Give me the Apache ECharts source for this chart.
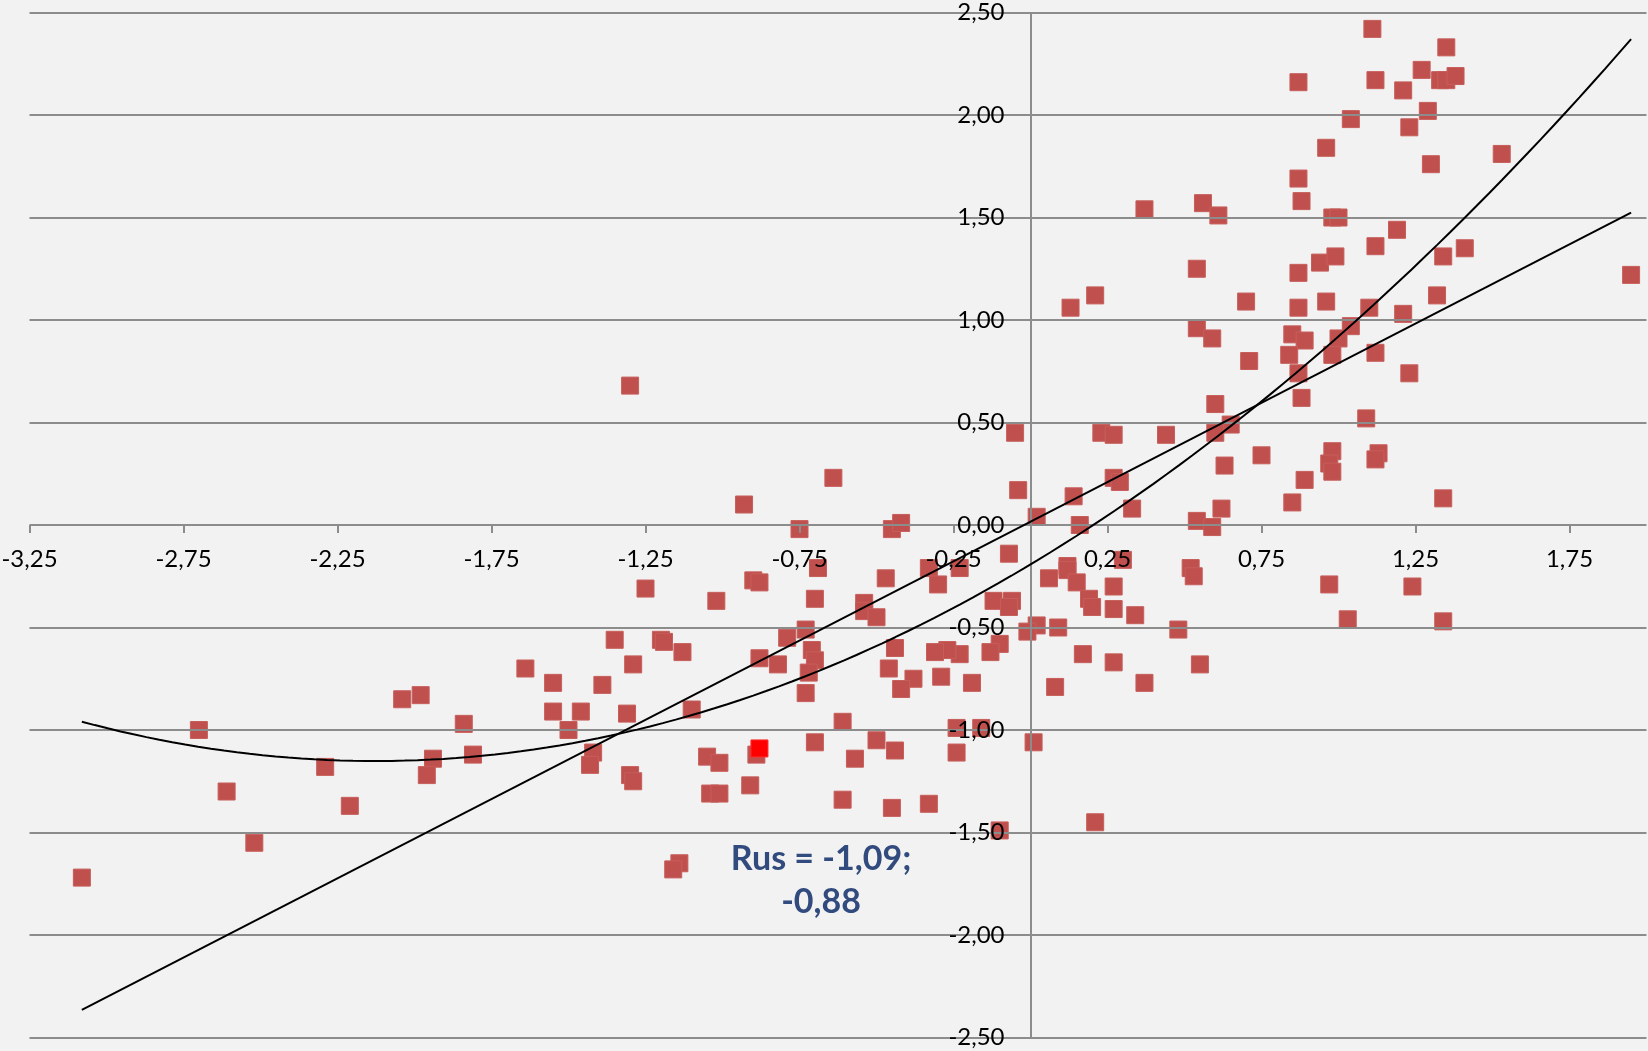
<!DOCTYPE html>
<html><head><meta charset="utf-8">
<script src="https://cdn.jsdelivr.net/npm/echarts@6/dist/echarts.min.js"></script>
<style>html,body{margin:0;padding:0;background:#f2f2f2;}#c{width:1648px;height:1051px;}</style>
</head><body><div id="c"></div>
<script>
// ---- data ----
const xValues = [
 -3.08,-2.70,-2.61,-2.52,-2.29,-2.21,-2.04,-1.98,-1.84,-1.94,-1.96,-1.81,-1.64,-1.55,-1.55,-1.46,-1.50,-1.42,-1.43,
 -1.39,-1.31,-1.10,-1.30,-1.29,-1.05,-1.01,-1.04,-1.01,-0.91,-0.89,-0.73,-0.70,-0.61,-0.57,-0.61,-0.50,-0.44,-0.45,-0.33,
 -0.24,-0.16,-0.24,-0.10,-1.14,-1.16,-0.38,-0.42,-0.29,-0.19,
 -1.30,-0.05,-0.64,-0.93,-0.04,-0.75,-0.45,-0.42,-1.25,-1.02,-0.90,-0.88,-0.69,-0.70,-0.47,-0.54,-0.54,-0.50,-0.33,-0.30,
 -0.23,-0.07,-0.12,-0.06,-0.07,-0.10,-0.13,-0.23,-0.27,-0.31,-0.44,-0.46,-1.35,-1.20,-1.19,-1.13,-1.29,-0.88,-0.82,-0.79,
 -0.73,-0.71,-0.70,-0.72,
 0.02,0.16,0.14,0.33,0.54,0.59,0.62,0.30,0.06,0.12,0.12,0.15,0.19,0.20,0.27,0.27,0.34,0.52,0.53,0.48,
 0.02,-0.01,0.09,0.17,0.27,0.37,0.55,0.08,0.01,0.21,
 0.37,0.56,0.61,0.54,0.13,0.21,0.54,0.59,0.60,0.65,0.60,0.63,0.23,0.27,0.44,0.27,0.29,
 1.11,1.35,0.87,1.12,1.27,1.21,1.33,1.35,1.38,1.04,1.29,1.23,0.96,1.30,1.53,0.87,0.88,0.98,1.00,
 1.19,1.12,1.41,0.87,0.94,0.99,1.34,1.95,0.70,0.87,0.96,1.10,1.21,1.32,1.04,0.85,0.89,1.00,0.84,0.98,
 1.12,0.71,0.87,1.23,0.88,1.09,
 0.75,0.98,0.97,0.98,0.89,1.13,1.12,0.85,1.34,0.97,1.24,1.03,1.34
];
const yValues = [
 -1.72,-1.00,-1.30,-1.55,-1.18,-1.37,-0.85,-0.83,-0.97,-1.14,-1.22,-1.12,-0.70,-0.77,-0.91,-0.91,-1.00,-1.11,-1.17,
 -0.78,-0.92,-0.90,-1.22,-1.25,-1.13,-1.16,-1.31,-1.31,-1.27,-1.12,-0.82,-1.06,-0.96,-1.14,-1.34,-1.05,-1.10,-1.38,-1.36,
 -0.99,-0.99,-1.11,-1.49,-1.65,-1.68,-0.75,-0.80,-0.74,-0.77,
 0.68,0.45,0.23,0.10,0.17,-0.02,-0.02,0.01,-0.31,-0.37,-0.27,-0.28,-0.21,-0.36,-0.26,-0.38,-0.42,-0.45,-0.21,-0.29,
 -0.21,-0.14,-0.37,-0.37,-0.40,-0.58,-0.62,-0.63,-0.61,-0.62,-0.60,-0.70,-0.56,-0.56,-0.57,-0.62,-0.68,-0.65,-0.68,-0.55,
 -0.51,-0.61,-0.66,-0.72,
 0.04,0.00,0.14,0.08,0.02,-0.01,0.08,-0.17,-0.26,-0.20,-0.22,-0.28,-0.36,-0.40,-0.30,-0.41,-0.44,-0.21,-0.25,-0.51,
 -0.49,-0.52,-0.50,-0.63,-0.67,-0.77,-0.68,-0.79,-1.06,-1.45,
 1.54,1.57,1.51,1.25,1.06,1.12,0.96,0.91,0.59,0.49,0.45,0.29,0.45,0.44,0.44,0.23,0.21,
 2.42,2.33,2.16,2.17,2.22,2.12,2.17,2.17,2.19,1.98,2.02,1.94,1.84,1.76,1.81,1.69,1.58,1.50,1.50,
 1.44,1.36,1.35,1.23,1.28,1.31,1.31,1.22,1.09,1.06,1.09,1.06,1.03,1.12,0.97,0.93,0.90,0.91,0.83,0.83,
 0.84,0.80,0.74,0.74,0.62,0.52,
 0.34,0.36,0.30,0.26,0.22,0.35,0.32,0.11,0.13,-0.29,-0.30,-0.46,-0.47
];
const highlightName = 'Rus';
const highlightX = [-0.88];
const highlightY = [-1.09];
const xTicks = [-3.25,-2.75,-2.25,-1.75,-1.25,-0.75,-0.25,0.25,0.75,1.25,1.75];
const yTicks = [-2.5,-2,-1.5,-1,-0.5,0,0.5,1,1.5,2,2.5];
const annotationAt = [-0.68, -1.733];

// ---- helpers ----
const fmt = v => (Math.abs(v) < 1e-9 ? 0 : v).toFixed(2).replace('.', ',');
function linFit(xs, ys) {
  const n = xs.length; let sx=0, sy=0, sxx=0, sxy=0;
  for (let i=0;i<n;i++){sx+=xs[i];sy+=ys[i];sxx+=xs[i]*xs[i];sxy+=xs[i]*ys[i];}
  const b = (n*sxy - sx*sy)/(n*sxx - sx*sx); const a = (sy - b*sx)/n;
  return x => a + b*x;
}
function quadFit(xs, ys) {
  const S=[0,0,0,0,0], T=[0,0,0];
  for (let i=0;i<xs.length;i++){let p=1;for(let k=0;k<5;k++){S[k]+=p; if(k<3)T[k]+=p*ys[i]; p*=xs[i];}}
  const M=[[S[4],S[3],S[2]],[S[3],S[2],S[1]],[S[2],S[1],S[0]]], R=[T[2],T[1],T[0]];
  const det=m=>m[0][0]*(m[1][1]*m[2][2]-m[1][2]*m[2][1])-m[0][1]*(m[1][0]*m[2][2]-m[1][2]*m[2][0])+m[0][2]*(m[1][0]*m[2][1]-m[1][1]*m[2][0]);
  const D=det(M); const sol=[];
  for(let c=0;c<3;c++){const m=M.map((row,r)=>row.map((v,j)=>j===c?R[r]:v)); sol.push(det(m)/D);}
  return x => sol[0]*x*x + sol[1]*x + sol[2];
}
const xmin = Math.min(...xValues), xmax = Math.max(...xValues);
const lin = linFit(xValues, yValues), quad = quadFit(xValues, yValues);
const N = 120, linPts = [], quadPts = [];
for (let i=0;i<=N;i++){const x = xmin + (xmax-xmin)*i/N; quadPts.push([x, quad(x)]);}
linPts.push([xmin, lin(xmin)], [xmax, lin(xmax)]);

// ---- layout ----
const W = 1648, H = 1051;
const G = {left: 29.5, right: 1.5, top: 12.5, bottom: 13.5};
const X_MIN = -3.25, X_MAX = 2.0, Y_MIN = -2.5, Y_MAX = 2.5;
const gw = W - G.left - G.right, gh = H - G.top - G.bottom;
// place the axes so they cross at the origin (offset from the grid edge)
const yAxisOffset = -((0 - X_MIN) / (X_MAX - X_MIN)) * gw;
const xAxisOffset = -((0 - Y_MIN) / (Y_MAX - Y_MIN)) * gh;

const FONT = 'Lato';
const GRID = '#8c8c8c';
const chart = echarts.init(document.getElementById('c'), null, {renderer:'canvas'});
chart.setOption({
  animation: false,
  backgroundColor: '#f2f2f2',
  textStyle: {fontFamily: FONT},
  grid: Object.assign({containLabel: false, outerBoundsMode: 'none'}, G),
  xAxis: {
    type: 'value', min: X_MIN, max: X_MAX, z: 6, position: 'bottom', offset: xAxisOffset,
    axisLine: {show: false, onZero: false},
    splitLine: {show: false},
    axisTick: {show: true, length: 8, customValues: xTicks, lineStyle: {color: GRID, width: 2}},
    axisLabel: {customValues: xTicks, formatter: fmt, color: '#000', fontFamily: FONT, fontSize: 24, margin: 22}
  },
  yAxis: {
    type: 'value', min: Y_MIN, max: Y_MAX, interval: 0.5, z: 6, position: 'left', offset: yAxisOffset,
    axisLine: {show: false, onZero: false},
    splitLine: {show: false},
    axisTick: {show: false},
    axisLabel: {formatter: fmt, color: '#000', fontFamily: FONT, fontSize: 24, margin: 26, showMinLabel: true, showMaxLabel: true}
  },
  series: [
    { type: 'line', data: [], z: 1, silent: true,
      markLine: { silent: true, symbol: 'none', animation: false, label: {show: false},
        lineStyle: {color: GRID, width: 2, type: 'solid', opacity: 1},
        data: yTicks.map(v => ({yAxis: v})).concat([{xAxis: 0}]) } },
    { type: 'scatter', data: xValues.map((x,i)=>[x, yValues[i]]), z: 3, symbol: 'rect', symbolSize: 17,
      itemStyle: {color: '#C0504D', borderColor: '#c65e5b', borderWidth: 1, opacity: 1} },
    { type: 'scatter', data: highlightX.map((x,i)=>[x, highlightY[i]]), z: 4, symbol: 'rect', symbolSize: 17,
      itemStyle: {color: '#FF0000', borderColor: '#ff2a2a', borderWidth: 1, opacity: 1} },
    { type: 'line', data: quadPts, z: 5, symbol: 'none', lineStyle: {color: '#000', width: 2, opacity: 1} },
    { type: 'line', data: linPts, z: 5, symbol: 'none', lineStyle: {color: '#000', width: 2, opacity: 1} },
    { type: 'scatter', data: [annotationAt], z: 7, symbolSize: 0, silent: true,
      label: { show: true, position: 'inside', align: 'center', verticalAlign: 'middle',
        formatter: `${highlightName} = ${fmt(highlightY[0])};\n${fmt(highlightX[0])}`,
        color: '#002060', fontFamily: FONT, fontWeight: 'bold', fontSize: 34, lineHeight: 43 } }
  ]
});
</script></body></html>
